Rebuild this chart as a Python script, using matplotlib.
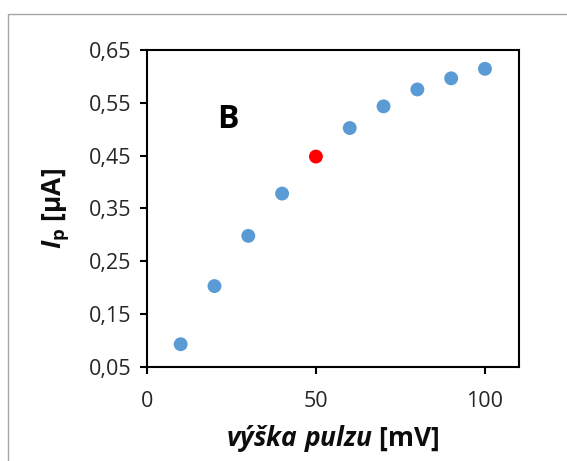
import matplotlib
matplotlib.use('Agg')
import matplotlib.pyplot as plt
from matplotlib.patches import Rectangle

# pulse height [mV] and peak current [uA]
pulse = [10, 20, 30, 40, 50, 60, 70, 80, 90, 100]
current = [0.093, 0.203, 0.298, 0.378, 0.448, 0.502, 0.543, 0.575, 0.596, 0.614]
highlight = 50  # the point drawn in red

yticks = [0.05, 0.15, 0.25, 0.35, 0.45, 0.55, 0.65]
xticks = [0, 50, 100]

plt.rcParams['font.family'] = ['Open Sans', 'DejaVu Sans']
plt.rcParams['mathtext.fontset'] = 'custom'
plt.rcParams['mathtext.it'] = 'Open Sans:italic:bold'
plt.rcParams['mathtext.bf'] = 'Open Sans:bold'
plt.rcParams['mathtext.rm'] = 'Open Sans:bold'

fig = plt.figure(figsize=(5.67, 4.61), dpi=100)
ax = fig.add_axes([0.259, 0.204, 0.656, 0.688])

# grey frame around the chart
fig.patches.append(Rectangle((8 / 567, -0.1), 1.2, 1.1 - 14 / 461,
                             transform=fig.transFigure, fill=False,
                             edgecolor='#a6a6a6', linewidth=1.0))

colors = ['#ff0000' if x == highlight else '#5b9bd5' for x in pulse]
ax.scatter(pulse, current, s=100, c=colors, edgecolors='none', zorder=3)

ax.set_xlim(0, 110)
ax.set_ylim(0.05, 0.65)
ax.set_xticks(xticks)
ax.set_yticks(yticks)
ax.set_yticklabels([f'{v:.2f}'.replace('.', ',') for v in yticks])
ax.tick_params(direction='out', length=5, width=1.5, labelsize=15.5,
               labelcolor='#262626', pad=6)
ax.tick_params(axis='x', pad=12)
for s in ax.spines.values():
    s.set_linewidth(1.5)

ax.set_ylabel(r'$\mathit{I}_\mathbf{p}$ [μA]', fontsize=19, fontweight='bold',
              labelpad=12, color='#0d0d0d')
ax.set_xlabel(r'$\mathit{výška\ pulzu}$ [mV]', fontsize=19, fontweight='bold',
              labelpad=8, color='#0d0d0d')

ax.text(24, 0.518, 'B', fontsize=23, fontweight='bold', ha='center', va='center')

fig.savefig('out.png', dpi=100)
